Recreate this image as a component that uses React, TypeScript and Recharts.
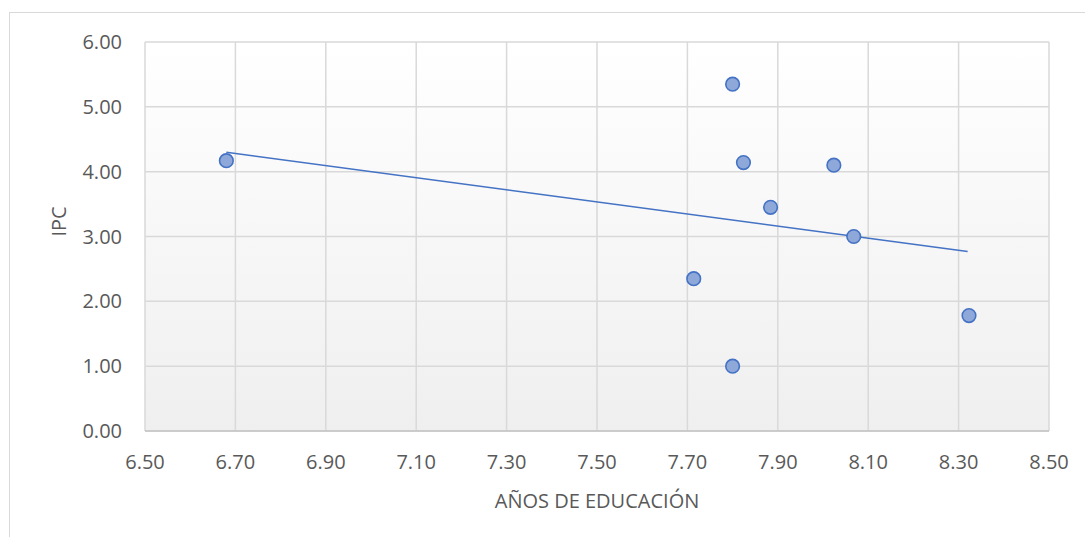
import React from "react";
import { ScatterChart, Scatter, XAxis, YAxis, CartesianGrid } from "recharts";

const educacion = [6.68, 7.8, 7.824, 8.024, 7.884, 8.068, 7.714, 8.323, 7.8];
const ipc = [4.17, 5.35, 4.14, 4.1, 3.45, 3.0, 2.35, 1.78, 1.0];
const trendX = [6.68, 8.32];
const trendY = [4.3, 2.77];
const xTicks = [6.5, 6.7, 6.9, 7.1, 7.3, 7.5, 7.7, 7.9, 8.1, 8.3, 8.5];
const yTicks = [0, 1, 2, 3, 4, 5, 6];

const points = educacion.map((x, i) => ({ x, y: ipc[i] }));
const trend = trendX.map((x, i) => ({ x, y: trendY[i] }));

const FONT = "'Open Sans', sans-serif";
const TXT = "#595959";

const Dot = (props: any) => {
  const { cx, cy } = props;
  if (cx == null || cy == null) return <g />;
  return <circle cx={cx} cy={cy} r={6.8} fill="#8FA8DA" stroke="#4472C4" strokeWidth={1.6} />;
};

export default function App() {
  return (
    <div
      style={{
        position: "absolute",
        left: 9,
        top: 12,
        width: 1076,
        height: 525,
        overflow: "hidden",
        borderTop: "1.5px solid #d9d9d9",
        borderLeft: "1.5px solid #d9d9d9",
        boxSizing: "border-box",
        background: "#fff",
      }}
    >
      <ScatterChart
        width={1076}
        height={525}
        margin={{ top: 30, right: 36, bottom: 0, left: 40 }}
        style={{ position: "absolute", left: -1.5, top: -1.5 }}
      >
        <defs>
          <linearGradient id="bgGrad" x1="0" y1="0" x2="0" y2="1">
            <stop offset="0%" stopColor="#ffffff" />
            <stop offset="100%" stopColor="#efefef" />
          </linearGradient>
        </defs>
        <CartesianGrid
          fill="url(#bgGrad)"
          stroke="#d9d9d9"
          strokeWidth={1.5}
          verticalValues={xTicks}
          horizontalValues={yTicks}
        />
        <XAxis
          type="number"
          dataKey="x"
          domain={[6.5, 8.5]}
          ticks={xTicks}
          tickFormatter={(v: number) => v.toFixed(2)}
          interval={0}
          tickLine={false}
          tickSize={0}
          tickMargin={24}
          axisLine={{ stroke: "#c4c4c4", strokeWidth: 1.5 }}
          height={106}
          tick={{ fill: TXT, fontSize: 20, fontFamily: FONT }}
          label={{
            value: "AÑOS DE EDUCACIÓN",
            position: "insideBottom",
            offset: 29,
            fill: TXT,
            fontSize: 20,
            fontFamily: FONT,
          }}
          allowDataOverflow
        />
        <YAxis
          type="number"
          dataKey="y"
          domain={[0, 6]}
          ticks={yTicks}
          tickFormatter={(v: number) => v.toFixed(2)}
          interval={0}
          tickLine={false}
          tickSize={0}
          tickMargin={23}
          axisLine={false}
          width={96}
          tick={{ fill: TXT, fontSize: 20, fontFamily: FONT }}
          label={{
            value: "IPC",
            angle: -90,
            position: "insideLeft",
            offset: 0,
            dx: 10,
            fill: TXT,
            fontSize: 20,
            fontFamily: FONT,
          }}
          allowDataOverflow
        />
        <Scatter
          data={trend}
          line={{ stroke: "#4472C4", strokeWidth: 1.5 }}
          shape={() => <g />}
          isAnimationActive={false}
        />
        <Scatter data={points} shape={Dot} isAnimationActive={false} />
      </ScatterChart>
    </div>
  );
}
